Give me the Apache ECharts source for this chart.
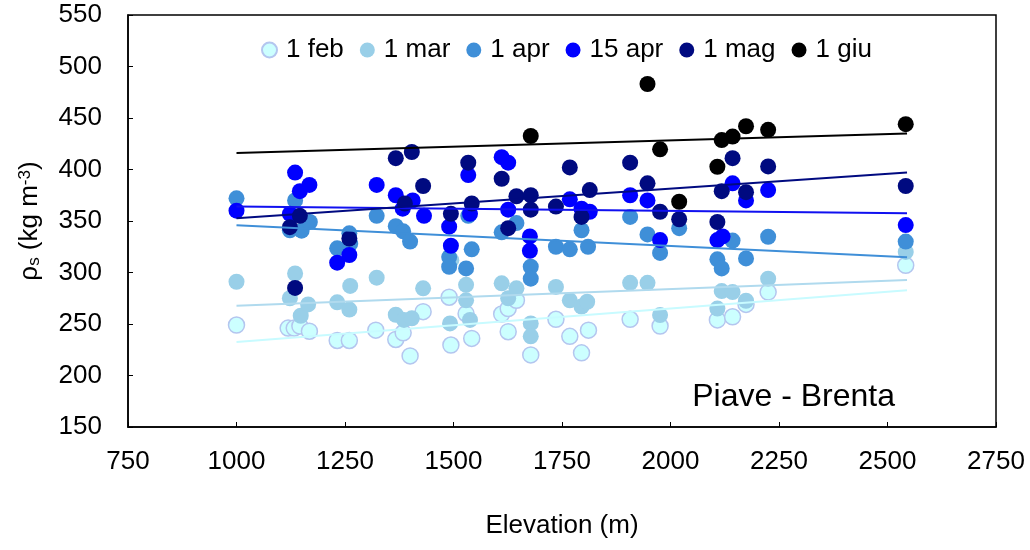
<!DOCTYPE html>
<html>
<head>
<meta charset="utf-8">
<script src="https://cdn.jsdelivr.net/npm/echarts@6/dist/echarts.min.js"></script>
<style>
  html, body { margin: 0; padding: 0; background: #fff; }
  #chart { width: 1030px; height: 550px; }
</style>
</head>
<body>
<div id="chart"></div>
<script>
// Snow density vs. elevation, Piave - Brenta basins
const xTicks = [750, 1000, 1250, 1500, 1750, 2000, 2250, 2500, 2750];
const yTicks = [150, 200, 250, 300, 350, 400, 450, 500, 550];

const dates = ['1 feb', '1 mar', '1 apr', '15 apr', '1 mag', '1 giu'];

const febElev = [1000,1119,1133,1146,1168,1232,1260,1321,1367,1384,1400,1430,1490,1494,1529,1542,1611,1626,1626,1645,1678,1736,1768,1795,1811,1907,1976,2108,2143,2174,2225,2542];
const febRho  = [249,246,246,248,243,234,234,244,235,241.5,219,262,276,229.6,260,236,259.7,265,242.5,273,220,254.6,238,222,244,254.6,248,254,257,269,281,307];

const marElev = [1000,1123,1135,1148,1165,1232,1260,1262,1323,1367,1386,1404,1430,1492,1495,1529,1529,1538,1611,1626,1645,1678,1678,1736,1768,1795,1808,1907,1947,1976,2108,2118,2143,2174,2225,2542];
const marRho  = [291,275,299,258,269,271,264,287,295,259,254,255.5,284.6,250.6,312,288,273,254,289.5,275,284.6,250.6,238,286,273,267,271.6,290,290,258.7,265,282,281,272.6,294,320];

const aprElev = [1000,1123,1135,1150,1169,1232,1260,1262,1323,1367,1384,1400,1490,1490,1529,1534,1542,1611,1645,1678,1678,1736,1768,1795,1810,1907,1947,1976,2020,2108,2118,2143,2174,2225,2542];
const aprRho  = [372,341,370,340.6,349,323.5,338,328,355,345,340,330,315,305.6,304,355,322.5,339,348,305.6,294,325,322.5,341,325,354,337,319,343,312.8,304,331,313.7,334.7,330];

const apr15Elev = [1000,1123,1135,1146,1168,1232,1260,1323,1367,1383,1406,1432,1490,1494,1534,1538,1611,1626,1626,1676,1676,1768,1795,1814,1907,1947,1976,2108,2120,2143,2174,2225,2542];
const apr15Rho  = [360,357,397,379,385,309.5,317,385,375,362,370,355,344.5,326,394.6,357,412,406.6,361,335,321,371,362,359,375,370,331.5,331.5,335,386.6,370,380,346];

const magElev = [1123,1135,1146,1260,1367,1388,1404,1430,1494,1534,1542,1611,1626,1645,1678,1678,1736,1768,1795,1814,1907,1947,1976,2020,2108,2118,2143,2174,2225,2542];
const magRho  = [344,285,355,333,411,367,417,384,357,406.6,367,391,343,374,375,361,364,402,354,380,406.6,386.6,359,351.7,349,379,411,378,403,384];

const giuElev = [1678,1947,1976,2020,2108,2118,2143,2174,2225,2542];
const giuRho  = [432.5,483,419.6,368.7,402.7,428.6,432,442,438.5,444];

// linear trend of each date, evaluated at the ends of the elevation range
const trendElev  = [1000, 2545];
const febTrend   = [232.5, 282.7];
const marTrend   = [267.8, 292.7];
const aprTrend   = [345.8, 314.8];
const apr15Trend = [364, 357.5];
const magTrend   = [352.6, 397];
const giuTrend   = [416, 435];

const colors = ['#ccffff', '#99cfe8', '#3f8fd8', '#0000ff', '#000a80', '#000000'];
const lineColors = ['#c8fbff', '#b0daee', '#3f8fd8', '#1010f0', '#000a80', '#000000'];

const groups = [
  [febElev, febRho, febTrend],
  [marElev, marRho, marTrend],
  [aprElev, aprRho, aprTrend],
  [apr15Elev, apr15Rho, apr15Trend],
  [magElev, magRho, magTrend],
  [giuElev, giuRho, giuTrend]
];

const pairs = (xs, ys) => xs.map((x, i) => [x, ys[i]]);

const series = [];
groups.forEach((g, i) => {
  series.push({
    name: dates[i],
    type: 'scatter',
    symbol: 'circle',
    symbolSize: 16,
    z: 2 + i,
    itemStyle: i === 0
      ? { color: colors[i], borderColor: '#b4c6ef', borderWidth: 1.5, opacity: 1 }
      : { color: colors[i], opacity: 1 },
    data: pairs(g[0], g[1])
  });
});
groups.forEach((g, i) => {
  series.push({
    name: 'trend ' + dates[i],
    type: 'line',
    symbol: 'none',
    silent: true,
    z: 10,
    lineStyle: { color: lineColors[i], width: 2 },
    data: pairs(trendElev, g[2])
  });
});

const font = 'Liberation Sans, Arial, Helvetica, sans-serif';
const chart = echarts.init(document.getElementById('chart'), null, { renderer: 'canvas' });
chart.setOption({
  animation: false,
  backgroundColor: '#fff',
  textStyle: { fontFamily: font },
  title: {
    text: 'Piave - Brenta',
    right: 135,
    top: 381,
    padding: 0,
    textStyle: { fontFamily: font, fontSize: 32, fontWeight: 'normal', color: '#000' }
  },
  legend: {
    data: dates.map(d => ({ name: d, icon: 'circle' })),
    left: 261,
    top: 37,
    padding: 0,
    itemWidth: 15,
    itemHeight: 15,
    itemGap: 16,
    textStyle: { fontFamily: font, fontSize: 26, color: '#000', padding: [0, 0, 0, 4] }
  },
  grid: {
    left: 128, right: 34, top: 15, bottom: 123,
    show: true, borderColor: '#000', borderWidth: 1.5, backgroundColor: 'transparent'
  },
  xAxis: {
    type: 'value',
    min: xTicks[0],
    max: xTicks[xTicks.length - 1],
    interval: 250,
    name: 'Elevation (m)',
    nameLocation: 'middle',
    nameGap: 86,
    nameTextStyle: { fontFamily: font, fontSize: 26, color: '#000' },
    axisLine: { show: true, lineStyle: { color: '#000', width: 1.5 } },
    axisTick: { show: true, inside: true, length: 5, lineStyle: { color: '#000' } },
    axisLabel: { fontFamily: font, fontSize: 26, color: '#000', margin: 22, formatter: v => String(v) },
    splitLine: { show: false }
  },
  yAxis: {
    type: 'value',
    min: yTicks[0],
    max: yTicks[yTicks.length - 1],
    interval: 50,
    name: '{a|ρ}{s|s}{a| (kg m}{p|-3}{a|)}',
    nameLocation: 'middle',
    nameGap: 85,
    nameRotate: 90,
    nameTextStyle: {
      fontFamily: font, fontSize: 26, color: '#000',
      rich: {
        a: { fontFamily: font, fontSize: 26, color: '#000' },
        s: { fontFamily: font, fontSize: 17, color: '#000', verticalAlign: 'bottom', padding: [9, 0, 0, 0] },
        p: { fontFamily: font, fontSize: 17, color: '#000', verticalAlign: 'top', padding: [0, 0, 9, 0] }
      }
    },
    axisLine: { show: true, lineStyle: { color: '#000', width: 1.5 } },
    axisTick: { show: true, inside: true, length: 5, lineStyle: { color: '#000' } },
    axisLabel: { fontFamily: font, fontSize: 26, color: '#000', margin: 26, formatter: v => String(v) },
    splitLine: { show: false }
  },
  series: series
});
</script>
</body>
</html>
